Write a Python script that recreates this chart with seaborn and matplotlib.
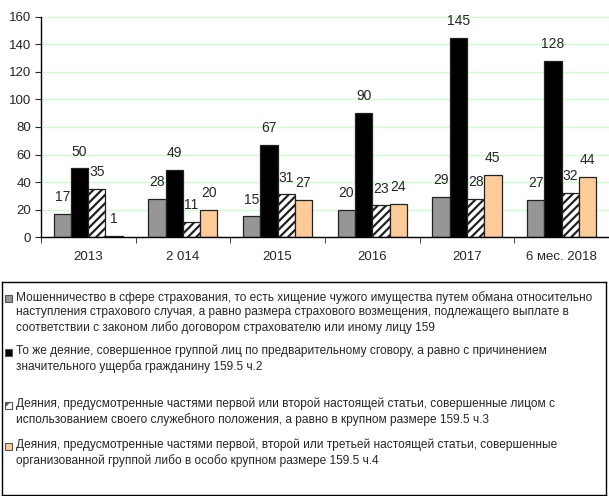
import pandas as pd
import matplotlib
matplotlib.use('Agg')
import matplotlib.pyplot as plt
import seaborn as sns
from matplotlib.patches import Rectangle

# ---- данные ----
periods = ['2013', '2 014', '2015', '2016', '2017', '6 мес. 2018']
series_names = [
    'Мошенничество в сфере страхования, то есть хищение чужого имущества путем обмана относительно\n'
    'наступления страхового случая, а равно размера страхового возмещения, подлежащего выплате в\n'
    'соответствии с законом либо договором страхователю или иному лицу 159',
    'То же деяние, совершенное группой лиц по предварительному сговору, а равно с причинением\n'
    'значительного ущерба гражданину 159.5 ч.2',
    'Деяния, предусмотренные частями первой или второй настоящей статьи, совершенные лицом с\n'
    'использованием своего служебного положения, а равно в крупном размере 159.5 ч.3',
    'Деяния, предусмотренные частями первой, второй или третьей настоящей статьи, совершенные\n'
    'организованной группой либо в особо крупном размере 159.5 ч.4',
]
s159 = [17, 28, 15, 20, 29, 27]
s159_2 = [50, 49, 67, 90, 145, 128]
s159_3 = [35, 11, 31, 23, 28, 32]
s159_4 = [1, 20, 27, 24, 45, 44]

colors = ['#969696', '#000000', '#ffffff', '#ffcc99']
hatches = ['', '', '////', '']

rows = []
for name, vals in zip(series_names, [s159, s159_2, s159_3, s159_4]):
    for p, v in zip(periods, vals):
        rows.append({'period': p, 'series': name, 'value': v})
df = pd.DataFrame(rows)

# ---- оформление ----
sns.set_style('white')
plt.rcParams['font.family'] = ['Liberation Sans', 'DejaVu Sans']
plt.rcParams['hatch.linewidth'] = 1.6

fig = plt.figure(figsize=(6.09, 4.96), dpi=100)
ax = fig.add_axes([0.067, 0.522, 0.933, 0.444])

sns.barplot(data=df, x='period', y='value', hue='series', order=periods,
            hue_order=series_names, palette=colors, width=0.73,
            edgecolor='#222222', linewidth=0.9, saturation=1, ax=ax)
ax.legend_.remove()

for cont, h in zip(ax.containers, hatches):
    for bar in cont:
        bar.set_hatch(h)
    ax.bar_label(cont, padding=7, fontsize=10)

ax.set_ylim(0, 160)
ax.set_yticks(range(0, 161, 20))
ax.set_xlim(-0.5, 5.5)
ax.yaxis.grid(True, color='#ccffcc', linewidth=1)
ax.set_axisbelow(True)
ax.set_xlabel('')
ax.set_ylabel('')
for side in ['top', 'right']:
    ax.spines[side].set_visible(False)
ax.spines['left'].set_color('black')
ax.spines['bottom'].set_color('black')
ax.spines['left'].set_linewidth(1)
ax.spines['bottom'].set_linewidth(1)
ax.tick_params(axis='y', length=4, left=True, labelsize=9.5, pad=3)
ax.set_xticks([i + 0.5 for i in range(-1, 6)], minor=True)
ax.tick_params(axis='x', which='major', length=0, labelsize=9.5, pad=10)
ax.tick_params(axis='x', which='minor', length=4, bottom=True, direction='out')

# ---- легенда (рамка снизу) ----
lax = fig.add_axes([0.0033, 0.002, 0.992, 0.429])
lax.set_xlim(0, 604)
lax.set_ylim(213, 0)
lax.set_xticks([])
lax.set_yticks([])
for sp in lax.spines.values():
    sp.set_color('black')
    sp.set_linewidth(1)

entry_y = [16, 70, 123, 164]
for name, c, h, y in zip(series_names, colors, hatches, entry_y):
    lax.add_patch(Rectangle((2.5, y - 3.5), 7, 7, facecolor=c, edgecolor='#555555',
                            hatch=('///' if h else None), linewidth=0.8))
    lax.text(14, y - 7.5, name, fontsize=8.6, va='top', ha='left', linespacing=1.3)

fig.savefig('out.png', dpi=100)
